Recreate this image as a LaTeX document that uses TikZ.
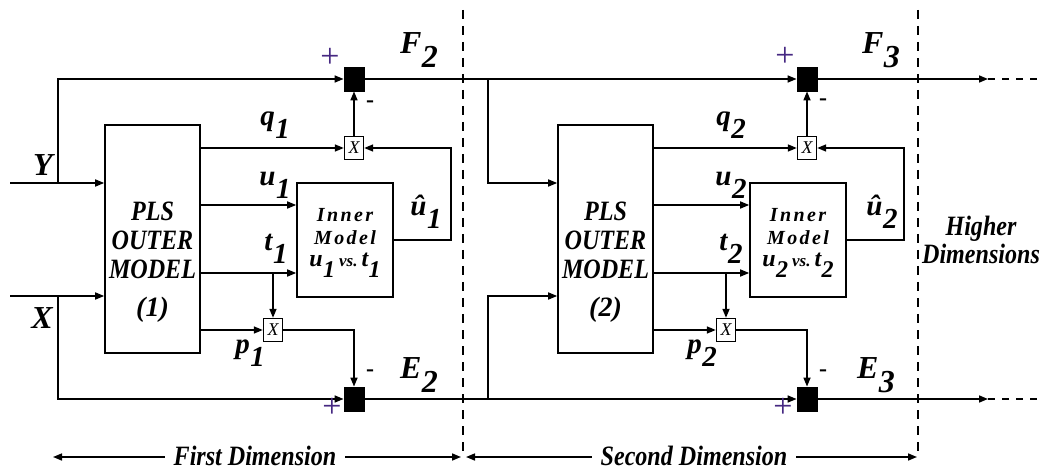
\documentclass[tikz,border=0pt]{standalone}
\usepackage{fontspec}
\setmainfont{Liberation Serif}
\newfontfamily\inn{Liberation Serif}[LetterSpace=12]
\usetikzlibrary{arrows.meta,calc}
\newcommand\lsub[2]{#1\kern0.5pt\raisebox{-0.45em}{#2}}
\newcommand\cnd[1]{\scalebox{0.86}[1]{#1}}
\definecolor{plum}{RGB}{70,40,130}
\begin{document}
\begin{tikzpicture}[x=1pt,y=-1pt,line width=1.6pt,
  arr/.style={-{Triangle[length=9pt,width=7pt]}},
  plsbox/.style={draw,minimum width=95pt,minimum height=228pt,inner sep=0pt},
  innbox/.style={draw,minimum width=96pt,minimum height=114pt,inner sep=0pt},
  sumbox/.style={draw=black,fill=black,line width=0.8pt,minimum width=20pt,minimum height=24pt,inner sep=0pt},
  mulbox/.style={draw,fill=white,line width=1.4pt,minimum width=19pt,minimum height=23pt,inner sep=0pt,font=\fontsize{18}{18}\selectfont\itshape},
  lbl/.style={inner sep=0pt,font=\fontsize{29}{29}\selectfont\bfseries\itshape},
  biglbl/.style={inner sep=0pt,font=\fontsize{32}{32}\selectfont\bfseries\itshape},
  sgn/.style={inner sep=0pt,text=plum,font=\fontsize{34}{34}\selectfont},
  mns/.style={inner sep=0pt,font=\fontsize{24}{24}\selectfont\bfseries},
  dimtxt/.style={inner sep=8pt,font=\fontsize{28}{28}\selectfont\bfseries\itshape},
  dashline/.style={line width=1.4pt,dash pattern=on 9pt off 7pt}]
\useasboundingbox (0,0) rectangle (1052,470);

% ---------- panel 1 ----------
\node[plsbox] (pls1) at (152.5,239) {};
\node[inner sep=0pt,align=center,font=\fontsize{28}{29}\selectfont\bfseries\itshape] (plst1) at (152.5,262) {\cnd{PLS}\\\cnd{OUTER}\\\cnd{MODEL}\\[9pt](1)};
\node[innbox] (inner1) at (345,240) {};
\node[inner sep=0pt,align=center,font=\fontsize{20}{23}\inn\bfseries\itshape] (innt1) at (345,243)
  {Inner\\Model\\[-1pt]{\fontsize{24}{24}\rmfamily\bfseries\itshape \lsub{u}{1}\,{\fontsize{17}{17}\selectfont vs.}\,\lsub{t}{1}}};
\node[sumbox] (sum1) at (354,79) {};
\node[sumbox] (bsum1) at (354,399) {};
\node[mulbox] (mx1) at (354,148) {X};
\node[mulbox] (mb1) at (273,330) {X};

\coordinate (yin) at (10,183);
\coordinate (xin) at (10,296);
\coordinate (yb) at (58,183);
\coordinate (xb) at (58,296);
\coordinate (u1c) at ($(inner1.west)+(0,-35)$);
\coordinate (t1c) at ($(inner1.west)+(0,33)$);

\draw[arr] (yin) -- (yin -| pls1.west);
\draw[arr] (xin) -- (xin -| pls1.west);
\draw[arr] (yb) |- (sum1.west);
\draw[arr] (xb) |- (bsum1.west);
\draw[arr] (pls1.east |- mx1.west) -- (mx1.west);
\draw[arr] (pls1.east |- u1c) -- (u1c);
\draw[arr] (pls1.east |- t1c) -- (t1c);
\draw[arr] (mb1.north |- t1c) -- (mb1.north);
\draw[arr] (pls1.east |- mb1.west) -- (mb1.west);
\draw[arr] (mb1.east) -| (bsum1.north);
\draw[arr] (inner1.east) -- ++(57,0) |- (mx1.east);
\draw[arr] (mx1.north) -- (sum1.south);

% ---------- panel 2 ----------
\node[plsbox] (pls2) at (605.5,239) {};
\node[inner sep=0pt,align=center,font=\fontsize{28}{29}\selectfont\bfseries\itshape] (plst2) at (605.5,262) {\cnd{PLS}\\\cnd{OUTER}\\\cnd{MODEL}\\[9pt](2)};
\node[innbox] (inner2) at (798,240) {};
\node[inner sep=0pt,align=center,font=\fontsize{20}{23}\inn\bfseries\itshape] (innt2) at (798,243)
  {Inner\\Model\\[-1pt]{\fontsize{24}{24}\rmfamily\bfseries\itshape \lsub{u}{2}\,{\fontsize{17}{17}\selectfont vs.}\,\lsub{t}{2}}};
\node[sumbox] (sum2) at (807,79) {};
\node[sumbox] (bsum2) at (807,399) {};
\node[mulbox] (mx2) at (807,148) {X};
\node[mulbox] (mb2) at (726,330) {X};

\coordinate (br2t) at (488,79);
\coordinate (br2b) at (488,399);
\coordinate (u2c) at ($(inner2.west)+(0,-35)$);
\coordinate (t2c) at ($(inner2.west)+(0,33)$);
\coordinate (tend) at (988,79);
\coordinate (bend) at (988,399);

\draw[arr] (sum1.east) -- (sum2.west);
\draw[arr] (bsum1.east) -- (bsum2.west);
\draw[arr] (br2t) |- (pls2.west |- yin);
\draw[arr] (br2b) |- (pls2.west |- xin);
\draw[arr] (pls2.east |- mx2.west) -- (mx2.west);
\draw[arr] (pls2.east |- u2c) -- (u2c);
\draw[arr] (pls2.east |- t2c) -- (t2c);
\draw[arr] (mb2.north |- t2c) -- (mb2.north);
\draw[arr] (pls2.east |- mb2.west) -- (mb2.west);
\draw[arr] (mb2.east) -| (bsum2.north);
\draw[arr] (inner2.east) -- ++(57,0) |- (mx2.east);
\draw[arr] (mx2.north) -- (sum2.south);
\draw[arr] (sum2.east) -- (tend);
\draw[arr] (bsum2.east) -- (bend);
\draw[line width=1.4pt,dash pattern=on 7pt off 7pt] (tend) -- ++(50,0);
\draw[line width=1.4pt,dash pattern=on 7pt off 7pt] (bend) -- ++(50,0);

% ---------- dashed separators ----------
\draw[dashline] (463,10) -- (463,458);
\draw[dashline] (918,10) -- (918,458);

% ---------- labels ----------
\node[biglbl] (ly) at (43,165) {Y};
\node[biglbl] (lx) at (42,318) {X};
\node[lbl] (lq1) at (275,125) {\lsub{q}{1}};
\node[lbl] (lu1) at (275,185) {\lsub{u}{1}};
\node[lbl] (lt1) at (276,249) {\lsub{t}{1}};
\node[lbl] (lp1) at (250,353) {\lsub{p}{1}};
\node[lbl] (luh1) at (426,212) {\lsub{\^{u}}{1}};
\node[biglbl] (lf2) at (419,50) {\lsub{F}{2}};
\node[biglbl] (le2) at (419,375) {\lsub{E}{2}};
\node[lbl] (lq2) at (731,125) {\lsub{q}{2}};
\node[lbl] (lu2) at (731,185) {\lsub{u}{2}};
\node[lbl] (lt2) at (731,249) {\lsub{t}{2}};
\node[lbl] (lp2) at (702,353) {\lsub{p}{2}};
\node[lbl] (luh2) at (882,212) {\lsub{\^{u}}{2}};
\node[biglbl] (lf3) at (881,50) {\lsub{F}{3}};
\node[biglbl] (le3) at (876,375) {\lsub{E}{3}};

\node[sgn] (p1t) at (330,58) {+};
\node[sgn] (p1b) at (332,408) {+};
\node[sgn] (p2t) at (785,57) {+};
\node[sgn] (p2b) at (783,408) {+};
\node[mns] (m1t) at (370,104) {-};
\node[mns] (m1b) at (370,373) {-};
\node[mns] (m2t) at (823,102) {-};
\node[mns] (m2b) at (823,373) {-};

\node[inner sep=0pt,align=center,font=\fontsize{28}{28}\selectfont\bfseries\itshape] (hd) at (981,240) {\cnd{Higher}\\\cnd{Dimensions}};

% ---------- dimension arrows ----------
\node[dimtxt] (d1) at (255,456) {\cnd{First Dimension}};
\node[dimtxt] (d2) at (694,456) {\cnd{Second Dimension}};
\coordinate (d1l) at (53,457);
\coordinate (d1r) at (461,457);
\coordinate (d2l) at (466,457);
\coordinate (d2r) at (917,457);
\draw[arr] (d1.west |- d1l) -- (d1l);
\draw[arr] (d1.east |- d1r) -- (d1r);
\draw[arr] (d2.west |- d2l) -- (d2l);
\draw[arr] (d2.east |- d2r) -- (d2r);
\end{tikzpicture}
\end{document}
